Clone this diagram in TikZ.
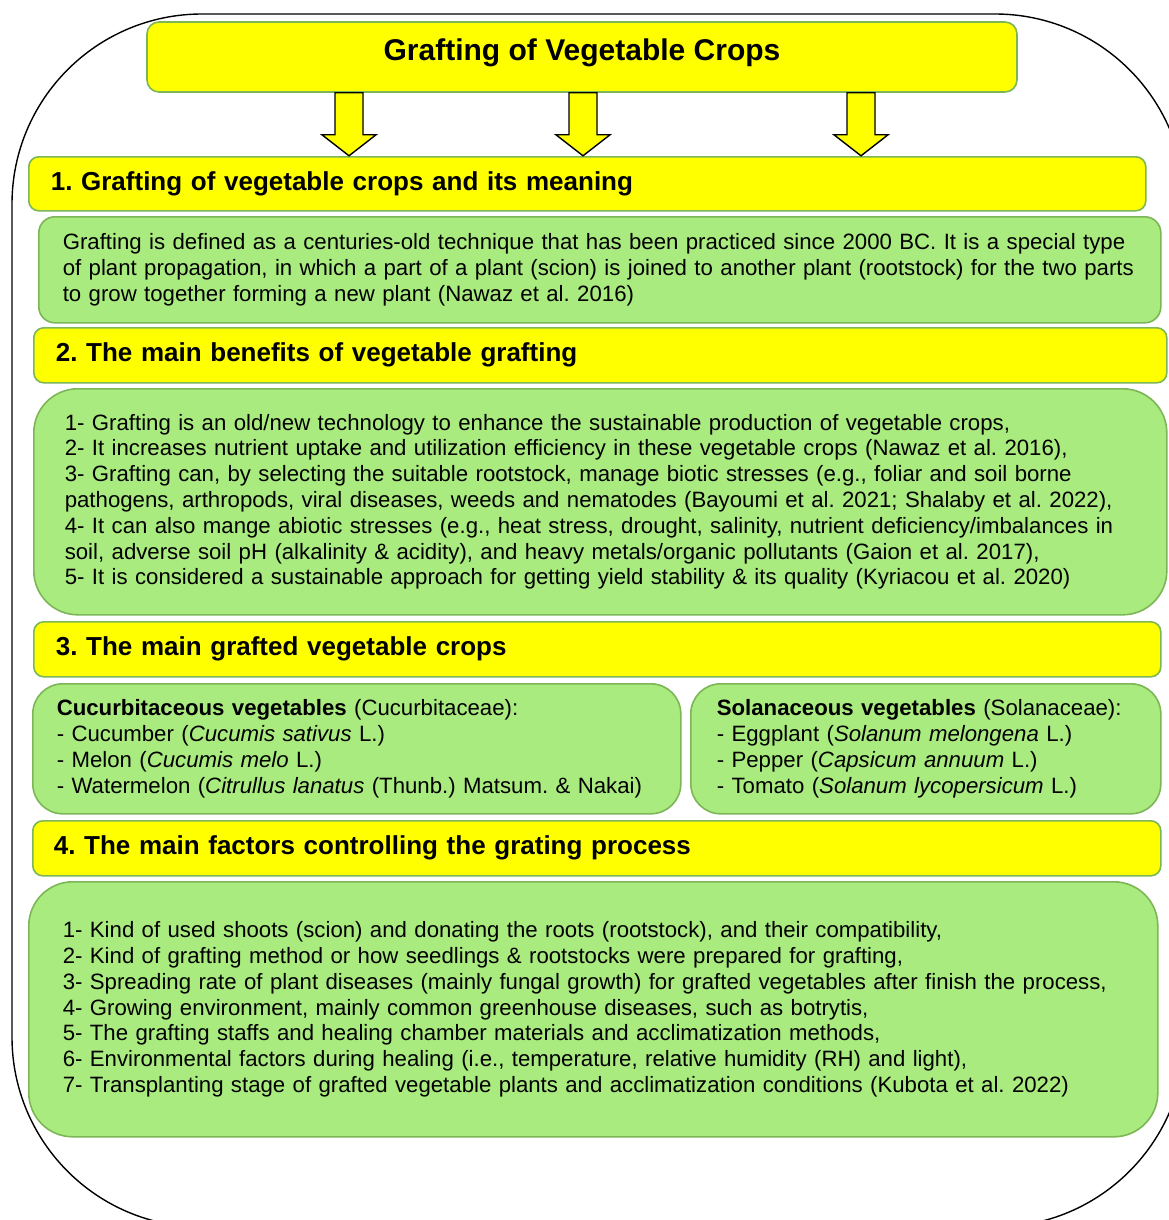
\documentclass[tikz,border=0pt]{standalone}
\usepackage{fontspec}
\setmainfont{Liberation Sans}
\usetikzlibrary{positioning}
\frenchspacing
\hyphenpenalty=10000

\definecolor{hyellow}{HTML}{FFFF00}
\definecolor{leafgreen}{HTML}{A9EB7F}
\definecolor{boxline}{HTML}{7DB657}

\begin{document}
\begin{tikzpicture}[
  x=0.5pt,
  y=-0.5pt,
  maintitle/.style={draw=boxline, fill=hyellow, line width=0.8pt, rounded corners=6pt, minimum width=435pt, minimum height=35pt, text height=11pt, text depth=7.2pt, font=\fontsize{15}{18}\selectfont\bfseries},
  headbox/.style={draw=boxline, fill=hyellow, line width=0.8pt, rounded corners=5pt, anchor=north west, align=left, inner xsep=11pt, inner ysep=0pt, minimum height=27.5pt, font=\fontsize{13}{16}\selectfont\bfseries},
  infobox/.style={draw=boxline, fill=leafgreen, line width=0.8pt, anchor=north west, align=left, inner ysep=0pt, font=\fontsize{11.1}{12.9}\selectfont},
  bigarrow/.style={draw=black, fill=hyellow, line width=0.7pt, line join=miter}
]
\useasboundingbox (0,0) rectangle (1168,1220);
\draw[line width=0.7pt, rounded corners=95pt] (12,14) rectangle (1185,1227);

\node[maintitle] (title) at (582,57) {Grafting of Vegetable Crops};

\node[headbox, text width=536.5pt, minimum height=27pt] (head1) at (28,156) {1. Grafting of vegetable crops and its meaning};
\node[infobox, rounded corners=8pt, inner xsep=12pt, text width=537pt, minimum height=53pt] (text1) at (38,216) {Grafting is defined as a centuries-old technique that has been practiced since 2000 BC. It is a special type\\
of plant propagation, in which a part of a plant (scion) is joined to another plant (rootstock) for the two parts\\
to grow together forming a new plant (Nawaz et al. 2016)};

\node[headbox, text width=544.5pt] (head2) at (33,327) {2. The main benefits of vegetable grafting};
\node[infobox, rounded corners=22pt, inner xsep=15.5pt, text width=535.5pt, minimum height=113pt] (text2) at (33,388) {1- Grafting is an old/new technology to enhance the sustainable production of vegetable crops,\\
2- It increases nutrient uptake and utilization efficiency in these vegetable crops (Nawaz et al. 2016),\\
3- Grafting can, by selecting the suitable rootstock, manage biotic stresses (e.g., foliar and soil borne\\
pathogens, arthropods, viral diseases, weeds and nematodes (Bayoumi et al. 2021; Shalaby et al. 2022),\\
4- It can also mange abiotic stresses (e.g., heat stress, drought, salinity, nutrient deficiency/imbalances in\\
soil, adverse soil pH (alkalinity \& acidity), and heavy metals/organic pollutants (Gaion et al. 2017),\\
5- It is considered a sustainable approach for getting yield stability \& its quality (Kyriacou et al. 2020)};

\node[headbox, text width=541.5pt] (head3) at (33,621) {3. The main grafted vegetable crops};
\node[infobox, rounded corners=15pt, inner xsep=12pt, text width=300pt, minimum height=65pt] (cucurb) at (32,683) {\textbf{Cucurbitaceous vegetables} (Cucurbitaceae):\\
- Cucumber (\textit{Cucumis sativus} L.)\\
- Melon (\textit{Cucumis melo} L.)\\
- Watermelon (\textit{Citrullus lanatus} (Thunb.) Matsum. \& Nakai)};
\node[infobox, rounded corners=15pt, inner xsep=13pt, text width=209pt, minimum height=65pt] (solan) at (690,683) {\textbf{Solanaceous vegetables} (Solanaceae):\\
- Eggplant (\textit{Solanum melongena} L.)\\
- Pepper (\textit{Capsicum annuum} L.)\\
- Tomato (\textit{Solanum lycopersicum} L.)};

\node[headbox, inner xsep=10.5pt, text width=543pt] (head4) at (32,820) {4. The main factors controlling the grating process};
\node[infobox, rounded corners=22pt, inner xsep=17pt, text width=530.5pt, minimum height=127.5pt] (text4) at (28,881) {1- Kind of used shoots (scion) and donating the roots (rootstock), and their compatibility,\\
2- Kind of grafting method or how seedlings \& rootstocks were prepared for grafting,\\
3- Spreading rate of plant diseases (mainly fungal growth) for grafted vegetables after finish the process,\\
4- Growing environment, mainly common greenhouse diseases, such as botrytis,\\
5- The grafting staffs and healing chamber materials and acclimatization methods,\\
6- Environmental factors during healing (i.e., temperature, relative humidity (RH) and light),\\
7- Transplanting stage of grafted vegetable plants and acclimatization conditions (Kubota et al. 2022)};

\draw[bigarrow] ([xshift=-123.5pt]title.south) -- ++(0,42) -- ++(-13,0) -- ++(27,21) -- ++(27,-21) -- ++(-13,0) -- ++(0,-42) -- cycle;
\draw[bigarrow] ([xshift=-6.5pt]title.south) -- ++(0,42) -- ++(-13,0) -- ++(27,21) -- ++(27,-21) -- ++(-13,0) -- ++(0,-42) -- cycle;
\draw[bigarrow] ([xshift=132.5pt]title.south) -- ++(0,42) -- ++(-13,0) -- ++(27,21) -- ++(27,-21) -- ++(-13,0) -- ++(0,-42) -- cycle;
\end{tikzpicture}
\end{document}
